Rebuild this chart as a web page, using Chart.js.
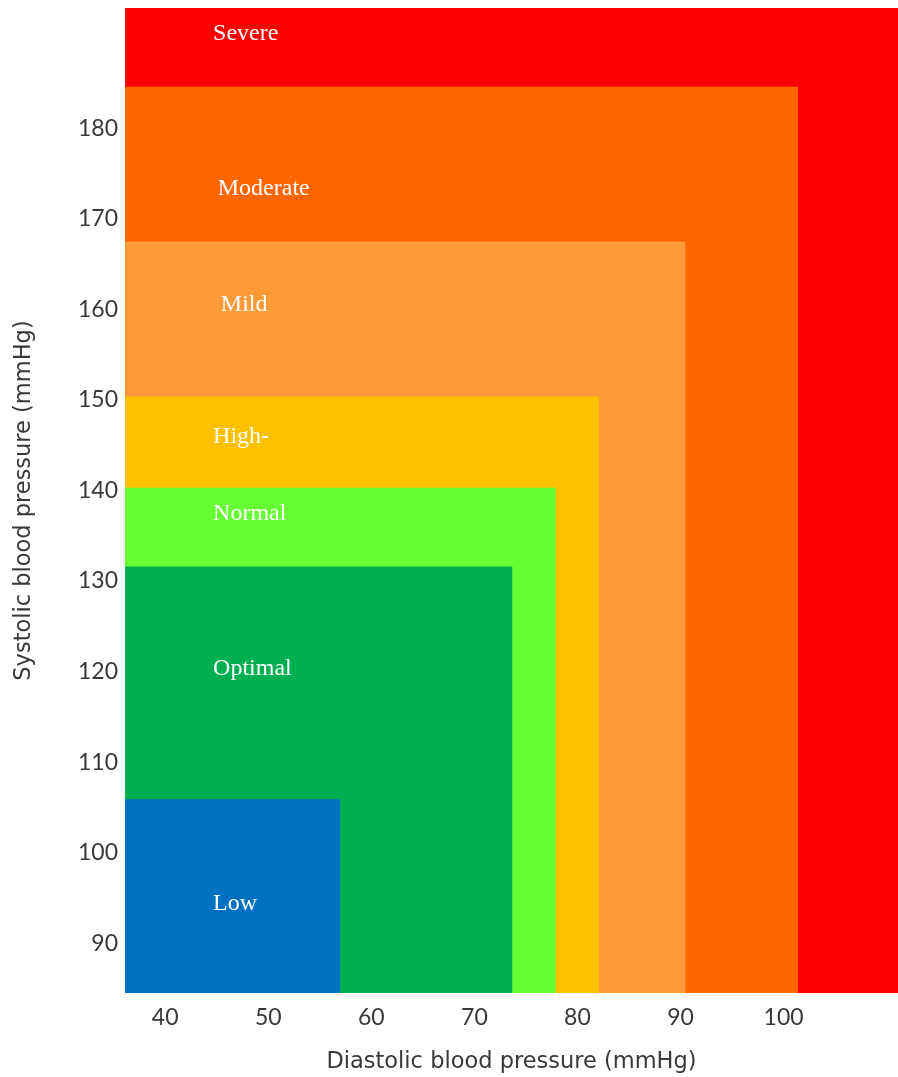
<!DOCTYPE html>
<html>
<head>
<meta charset="utf-8">
<script src="https://cdn.jsdelivr.net/npm/chart.js@4.4.1/dist/chart.umd.min.js"></script>
<style>
    html, body { margin: 0; padding: 0; background: #ffffff; }
    #wrap { width: 898px; height: 1077px; }
</style>
</head>
<body>
<div id="wrap"><canvas id="bpChart"></canvas></div>
<script>
// categories, drawn from the biggest (back) to the smallest (front)
const arrCategories = ['Low', 'Optimal', 'Normal', 'High-normal', 'Mild', 'Moderate', 'Severe'];
// upper limit of each zone, diastolic (x) and systolic (y)
const arrDiastolicTop = [57.0, 73.7, 77.9, 82.1, 90.5, 101.4, 111.1];
const arrSystolicTop = [105.9, 131.6, 140.3, 150.4, 167.5, 184.6, 193.3];
const arrColours = ['#0070C0', '#00B050', '#66FF33', '#FFC000', '#FF9A38', '#FF6600', '#FF0000'];
// text written on the zones and the systolic value its middle sits at
const arrZoneText = ['Low', 'Optimal', 'Normal', 'High-', 'Mild', 'Moderate', 'Severe'];
const arrZoneTextAt = [94.4, 120.3, 137.4, 145.9, 160.5, 173.3, 190.5];
const arrZoneTextX = [44.65, 44.65, 44.65, 44.65, 45.4, 45.1, 44.65];

const arrXTicks = [40, 50, 60, 70, 80, 90, 100];
const arrYTicks = [90, 100, 110, 120, 130, 140, 150, 160, 170, 180];

const xMin = 36.1;
const yMin = 84.5;

const tickFont = { family: 'Lato', size: 23 };
const titleFont = { family: 'DejaVu Sans', size: 22.5 };
const axisColour = '#383838';

// each zone is a line along its top edge filled down to the bottom of the axis
let datasets = arrCategories.map((name, i) => ({
    label: name,
    data: [
        { x: xMin, y: arrSystolicTop[i] },
        { x: arrDiastolicTop[i], y: arrSystolicTop[i] }
    ],
    backgroundColor: arrColours[i],
    borderWidth: 0,
    pointRadius: 0,
    fill: 'start'
}));

const zoneLabels = {
    id: 'zoneLabels',
    afterDatasetsDraw(chart) {
        const ctx = chart.ctx;
        const xs = chart.scales.x;
        const ys = chart.scales.y;
        ctx.save();
        ctx.fillStyle = '#ffffff';
        ctx.font = '24px "Liberation Serif", "Times New Roman", serif';
        ctx.textAlign = 'left';
        ctx.textBaseline = 'middle';
        arrZoneText.forEach((txt, i) => {
            ctx.fillText(txt, xs.getPixelForValue(arrZoneTextX[i]), ys.getPixelForValue(arrZoneTextAt[i]));
        });
        ctx.restore();
    }
};

// no extra room for the outer tick labels, the plot runs to the edges
function noEdgePadding(scale) {
    scale.paddingTop = 0;
    scale.paddingBottom = 0;
    scale.paddingLeft = 0;
    scale.paddingRight = 0;
}

new Chart(document.getElementById('bpChart'), {
    type: 'line',
    data: { datasets: datasets },
    options: {
        responsive: true,
        maintainAspectRatio: false,
        animation: false,
        layout: { padding: { top: 8, right: 0, bottom: 0, left: 0 } },
        plugins: {
            legend: { display: false },
            tooltip: { enabled: false }
        },
        scales: {
            x: {
                type: 'linear',
                min: xMin,
                max: arrDiastolicTop[arrDiastolicTop.length - 1],
                afterBuildTicks: (scale) => { scale.ticks = arrXTicks.map(v => ({ value: v })); },
                afterFit: (scale) => { scale.height = 84; noEdgePadding(scale); },
                grid: { display: false, drawTicks: false },
                border: { display: false },
                ticks: { font: tickFont, color: axisColour, padding: 11, maxRotation: 0 },
                title: {
                    display: true,
                    text: 'Diastolic blood pressure (mmHg)',
                    font: titleFont,
                    color: axisColour,
                    padding: { top: 0, bottom: 1 }
                }
            },
            y: {
                type: 'linear',
                min: yMin,
                max: arrSystolicTop[arrSystolicTop.length - 1],
                afterBuildTicks: (scale) => { scale.ticks = arrYTicks.map(v => ({ value: v })); },
                afterFit: (scale) => { scale.width = 125; noEdgePadding(scale); },
                grid: { display: false, drawTicks: false },
                border: { display: false },
                ticks: { font: tickFont, color: axisColour, padding: 7 },
                title: {
                    display: true,
                    text: 'Systolic blood pressure (mmHg)',
                    font: titleFont,
                    color: axisColour,
                    padding: { top: 11, bottom: 0 }
                }
            }
        }
    },
    plugins: [zoneLabels]
});
</script>
</body>
</html>
